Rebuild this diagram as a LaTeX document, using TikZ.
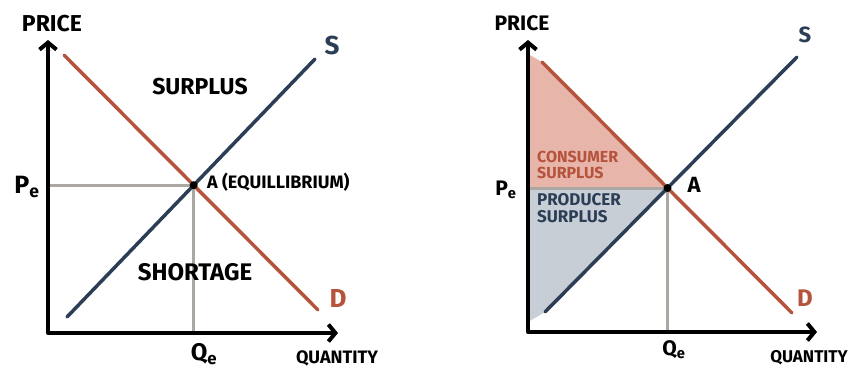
\documentclass[tikz,border=0pt]{standalone}
\usepackage{fontspec}
\setmainfont{Fira Sans}
\usetikzlibrary{arrows.meta}
\definecolor{dcol}{HTML}{B5533C}
\definecolor{scol}{HTML}{2C3E56}
\definecolor{gcol}{HTML}{ABA8A3}
\definecolor{csfill}{HTML}{E8B5AA}
\definecolor{psfill}{HTML}{C7CED6}
\tikzset{
  axis/.style={line width=4pt,line cap=round,line join=round,{Straight Barb[length=7pt,width=17pt]}-{Straight Barb[length=7pt,width=17pt]}},
  demand/.style={dcol,line width=3.5pt,line cap=round},
  supply/.style={scol,line width=3.5pt,line cap=round},
  guide/.style={gcol,line width=3pt},
  lbl/.style={font=\bfseries\fontsize{#1}{#1}\selectfont,inner sep=0pt},
}

\begin{document}
\begin{tikzpicture}[x=1pt,y=-1pt]
\useasboundingbox (0,0) rectangle (852,369);
\coordinate (ytopL) at (48,40);
\coordinate (oL) at (48,333);
\coordinate (xendL) at (338,333);
\coordinate (dL1) at (64,55);
\coordinate (dL2) at (318,310);
\coordinate (sL1) at (67,317);
\coordinate (sL2) at (315,59);
\coordinate (eqL) at (intersection of dL1--dL2 and sL1--sL2);
\draw[guide] (oL |- eqL) -- (eqL) -- (eqL |- oL);
\draw[demand] (dL1) -- (dL2);
\draw[supply] (sL1) -- (sL2);
\draw[axis] (ytopL) -- (oL) -- (xendL);
\fill (eqL) circle (4);
\node[lbl=23] (priceL) at (52,24) {PRICE};
\node[lbl=26,scol] (sLabL) at (332,45) {S};
\node[lbl=26,dcol] (dLabL) at (338,298) {D};
\node[lbl=25] (peL) at (27,187) {P\textsubscript{e}};
\node[lbl=24] (qeL) at (204,354) {Q\textsubscript{e}};
\node[lbl=18] (qtyL) at (337,358) {QUANTITY};
\node[lbl=23] (surplusL) at (200,87) {SURPLUS};
\node[lbl=24] (shortageL) at (195,272) {SHORTAGE};
\node[lbl=18,anchor=west] (eqLabL) at (207,182) {A (EQUILLIBRIUM)};
\coordinate (ytopR) at (528,40);
\coordinate (oR) at (528,332);
\coordinate (xendR) at (817,332);
\coordinate (dR1) at (542,62);
\coordinate (dR2) at (792,313);
\coordinate (sR1) at (545,312);
\coordinate (sR2) at (797,57);
\coordinate (eqR) at (intersection of dR1--dR2 and sR1--sR2);
\fill[csfill] (528,54) -- (dR1) -- (eqR) -- (oR |- eqR) -- cycle;
\fill[psfill] (oR |- eqR) -- (eqR) -- (sR1) -- (528,322) -- cycle;
\draw[guide] (oR |- eqR) -- (eqR) -- (eqR |- oR);
\draw[demand] (dR1) -- (dR2);
\draw[supply] (sR1) -- (sR2);
\draw[axis] (ytopR) -- (oR) -- (xendR);
\fill (eqR) circle (4);
\node[lbl=21] (priceR) at (522,23) {PRICE};
\node[lbl=22,scol] (sLabR) at (805,35) {S};
\node[lbl=24,dcol] (dLabR) at (805,298) {D};
\node[lbl=21] (peR) at (506,190) {P\textsubscript{e}};
\node[lbl=21] (qeR) at (674,350) {Q\textsubscript{e}};
\node[lbl=17] (qtyR) at (809,358) {QUANTITY};
\node[lbl=22] (aR) at (694,185) {A};
\node[lbl=16,dcol,align=left,anchor=north west] (consR) at (537,151) {CONSUMER\\SURPLUS};
\node[lbl=17,scol,align=left,anchor=north west] (prodR) at (537,193) {PRODUCER\\SURPLUS};
\end{tikzpicture}
\end{document}
